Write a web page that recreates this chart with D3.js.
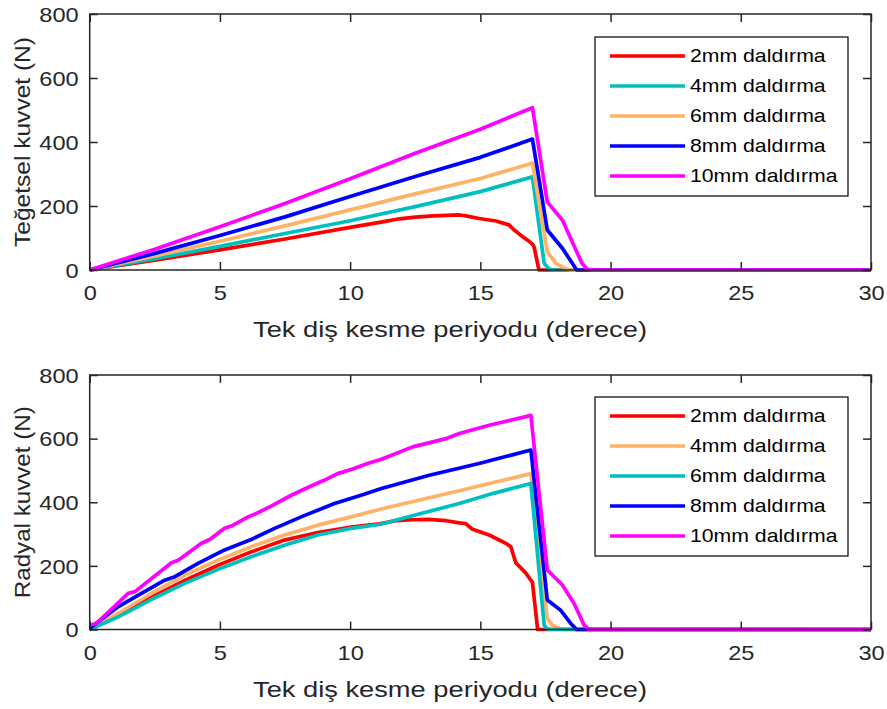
<!DOCTYPE html>
<html><head><meta charset="utf-8">
<script src="https://cdn.jsdelivr.net/npm/d3@7"></script>
<style>
html,body{margin:0;padding:0;background:#fff;}
svg{display:block;}
text{font-family:"Liberation Sans",Arial,sans-serif;}
</style></head>
<body>
<svg id="chart" width="887" height="709"></svg>
<script>
// ---------- data ----------
const xTicks = [0, 5, 10, 15, 20, 25, 30];
const yTicks = [0, 200, 400, 600, 800];
const xLabel = "Tek diş kesme periyodu (derece)";
const yLabelTop = "Teğetsel kuvvet (N)";
const yLabelBottom = "Radyal kuvvet (N)";

const legendTop = ["2mm daldırma", "4mm daldırma", "6mm daldırma", "8mm daldırma", "10mm daldırma"];
const legendBottom = ["2mm daldırma", "4mm daldırma", "6mm daldırma", "8mm daldırma", "10mm daldırma"];
const colorsTop = ["#ff0000", "#00bfbf", "#ffb266", "#0000ff", "#ff00ff"];
const colorsBottom = ["#ff0000", "#ffb266", "#00bfbf", "#0000ff", "#ff00ff"];

// Top panel (tangential force)
const tRedX = [0, 2.5, 5, 7.5, 10, 11.3, 11.9, 12.5, 13.2, 14.2, 14.45, 14.95, 15.6, 16.1, 16.3, 16.5, 16.8, 17.0, 17.06, 17.25, 30];
const tRedY = [0, 31, 63, 97, 133, 151, 160, 165, 169, 172, 169, 161, 153, 141, 125, 112, 94, 81, 73, 0, 0];
const tCyanX = [0, 2.5, 5, 7.5, 10, 12.5, 15, 17, 17.45, 17.63, 17.8, 30];
const tCyanY = [0, 35, 74, 114, 154, 198, 245, 291, 21, 4, 0, 0];
const tOrangeX = [0, 2.5, 5, 7.5, 10, 12.5, 15, 17, 17.57, 17.9, 18.3, 18.5, 30];
const tOrangeY = [0, 44, 90, 138, 188, 238, 286, 334, 57, 21, 3, 0, 0];
const tBlueX = [0, 2.5, 5, 7.5, 10, 12.5, 15, 17, 17.57, 18.15, 18.53, 18.7, 30];
const tBlueY = [0, 52, 108, 166, 230, 292, 352, 409, 125, 68, 21, 0, 0];
const tMagX = [0, 2.5, 5, 7.5, 10, 12.5, 15, 17, 17.57, 18.15, 18.9, 19.1, 19.3, 30];
const tMagY = [0, 65, 135, 208, 285, 365, 440, 507, 213, 156, 21, 3, 0, 0];

// Bottom panel (radial force)
const bRedX = [0, 1.1, 2.38, 3.65, 4.93, 6.2, 7.48, 8.76, 10.04, 11.12, 11.76, 12.4, 13.0, 13.68, 14.19, 14.44, 14.7, 15.34, 15.98, 16.17, 16.36, 16.74, 17.0, 17.2, 30];
const bRedY = [0, 45, 102, 154, 202, 244, 281, 305, 322, 332, 342, 345, 346, 342, 335, 333, 315, 297, 271, 260, 210, 178, 148, 0, 0];
const bOrangeX = [0, 1.1, 2.38, 3.65, 4.93, 6.2, 7.48, 8.76, 10.04, 11.31, 12.5, 14.19, 15.5, 16.94, 17.57, 17.76, 18.1, 18.3, 30];
const bOrangeY = [3, 51, 114, 171, 218, 260, 297, 328, 354, 381, 404, 436, 462, 490, 35, 14, 2, 0, 0];
const bCyanX = [0, 1.1, 2.38, 3.65, 4.93, 6.2, 7.48, 8.76, 10.04, 11.12, 12.5, 14.19, 15.5, 16.94, 17.45, 17.57, 30];
const bCyanY = [0, 40, 95, 145, 189, 229, 265, 297, 318, 330, 360, 396, 428, 459, 14, 1, 0];
const bBlueX = [0, 1.1, 2.88, 3.27, 4.16, 5.18, 6.2, 7.1, 8.12, 9.4, 10.42, 11.2, 13.04, 14.95, 16.94, 17.57, 18.08, 18.47, 18.7, 30];
const bBlueY = [4, 72, 155, 166, 208, 250, 283, 318, 354, 396, 422, 443, 485, 522, 564, 93, 61, 19, 0, 0];
const bMagX = [0, 0.26, 1.48, 1.74, 3.14, 3.4, 4.29, 4.61, 5.18, 5.44, 6.08, 6.33, 6.97, 7.74, 8.5, 9.0, 9.52, 10.04, 10.67, 11.2, 12.4, 13.68, 14.19, 15.34, 16.94, 17.57, 18.15, 18.6, 18.98, 19.17, 30];
const bMagY = [14, 19, 114, 119, 210, 218, 271, 283, 318, 325, 354, 362, 388, 422, 451, 469, 490, 503, 522, 535, 574, 600, 616, 642, 673, 187, 140, 82, 14, 0, 0];

// ---------- drawing ----------
const svg = d3.select("#chart");
const axisColor = "#262626";
const SX = 1.18; // horizontal glyph stretch of the reference text

function zip(xs, ys) { return xs.map((x, i) => [x, ys[i]]); }

function panel(opts) {
  const {left, right, top, bottom, series, colors, legend, yLabel, yLabelLen, legendBox} = opts;
  const x = d3.scaleLinear().domain([0, 30]).range([left, right]);
  const y = d3.scaleLinear().domain([0, 800]).range([bottom, top]);
  const g = svg.append("g");

  const line = d3.line().x(d => x(d[0])).y(d => y(d[1]));
  series.forEach((s, i) => {
    g.append("path").datum(s).attr("d", line)
      .attr("fill", "none").attr("stroke", colors[i])
      .attr("stroke-width", 3.7).attr("stroke-linejoin", "round").attr("stroke-linecap", "butt");
  });

  const tick = 8;
  const ax = g.append("g").attr("transform", `translate(0,${bottom})`)
    .call(d3.axisBottom(x).tickValues(xTicks).tickSizeInner(-tick).tickSizeOuter(0).tickPadding(16));
  const axT = g.append("g").attr("transform", `translate(0,${top})`)
    .call(d3.axisTop(x).tickValues(xTicks).tickSizeInner(-tick).tickSizeOuter(0).tickFormat(""));
  const ay = g.append("g").attr("transform", `translate(${left},0)`)
    .call(d3.axisLeft(y).tickValues(yTicks).tickSizeInner(-tick).tickSizeOuter(0).tickPadding(11));
  const ayR = g.append("g").attr("transform", `translate(${right},0)`)
    .call(d3.axisRight(y).tickValues(yTicks).tickSizeInner(-tick).tickSizeOuter(0).tickFormat(""));
  [ax, axT, ay, ayR].forEach(a => {
    a.select(".domain").remove();
    a.selectAll("line").attr("stroke", axisColor).attr("stroke-width", 1.5);
    a.selectAll("text").attr("fill", axisColor).style("font-size", "20px")
      .style("font-family", "'Liberation Sans', Arial, sans-serif")
      .attr("transform", `scale(${SX},1)`);
  });
  ay.selectAll("text").attr("dy", "0.36em").attr("x", -11 / SX);

  g.append("rect").attr("x", left).attr("y", top)
    .attr("width", right - left).attr("height", bottom - top)
    .attr("fill", "none").attr("stroke", axisColor).attr("stroke-width", 1.5);

  // axis labels
  g.append("text").attr("transform", `translate(450,${bottom + 67}) scale(1.24,1)`)
    .attr("text-anchor", "middle").attr("fill", axisColor)
    .style("font-size", "22px").text(xLabel);
  g.append("text").attr("transform", `translate(30,${(top + bottom) / 2}) rotate(-90)`)
    .attr("text-anchor", "middle").attr("fill", axisColor)
    .attr("textLength", yLabelLen).attr("lengthAdjust", "spacingAndGlyphs")
    .style("font-size", "22px").text(yLabel);

  // legend
  const lg = g.append("g");
  lg.append("rect").attr("x", legendBox.x).attr("y", legendBox.y)
    .attr("width", legendBox.w).attr("height", legendBox.h)
    .attr("fill", "#fff").attr("stroke", "#000").attr("stroke-width", 1.2);
  legend.forEach((name, i) => {
    const yy = legendBox.y + 19 + i * 30;
    lg.append("line").attr("x1", legendBox.x + 15).attr("x2", legendBox.x + 90)
      .attr("y1", yy).attr("y2", yy).attr("stroke", colors[i]).attr("stroke-width", 3.7);
    lg.append("text").attr("transform", `translate(${legendBox.x + 95},${yy}) scale(${SX},1)`)
      .attr("dy", "0.35em")
      .attr("fill", "#000").style("font-size", "18px").text(name);
  });
}

panel({
  left: 89.7, right: 871, top: 14, bottom: 270,
  series: [zip(tRedX, tRedY), zip(tCyanX, tCyanY), zip(tOrangeX, tOrangeY), zip(tBlueX, tBlueY), zip(tMagX, tMagY)],
  colors: colorsTop, legend: legendTop, yLabel: yLabelTop, yLabelLen: 210,
  legendBox: {x: 595, y: 37, w: 253, h: 159}
});
panel({
  left: 89.7, right: 871, top: 375, bottom: 629.5,
  series: [zip(bRedX, bRedY), zip(bOrangeX, bOrangeY), zip(bCyanX, bCyanY), zip(bBlueX, bBlueY), zip(bMagX, bMagY)],
  colors: colorsBottom, legend: legendBottom, yLabel: yLabelBottom, yLabelLen: 192,
  legendBox: {x: 595, y: 397, w: 253, h: 159}
});
</script>
</body></html>
